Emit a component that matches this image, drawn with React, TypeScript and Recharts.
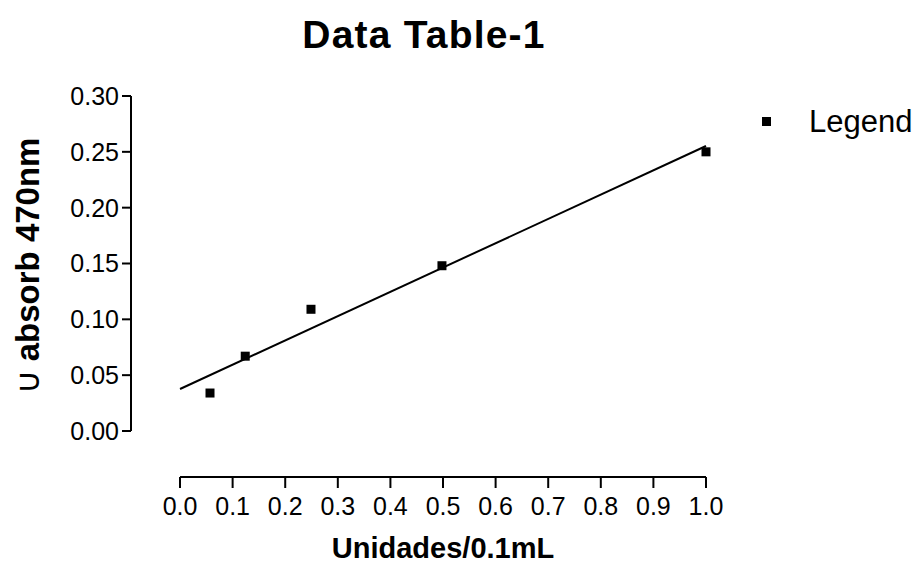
import { ScatterChart, Scatter, XAxis, YAxis, ReferenceLine } from 'recharts';

// measured points (Unidades/0.1mL vs absorbance)
const unidades = [0.057, 0.124, 0.249, 0.498, 1.0];
const absorb = [0.034, 0.067, 0.109, 0.148, 0.25];

// linear fit, ends
const fitX = [0, 1.0];
const fitY = [0.0376, 0.2552];

const xTicks = [0, 0.1, 0.2, 0.3, 0.4, 0.5, 0.6, 0.7, 0.8, 0.9, 1.0];
const yTicks = [0, 0.05, 0.1, 0.15, 0.2, 0.25, 0.3];

const points = unidades.map((x, i) => ({ x, y: absorb[i] }));
const fit = fitX.map((x, i) => ({ x, y: fitY[i] }));

const FONT = '"Liberation Sans", Arial, sans-serif';

// Prism-style offset axes: the axis lines sit outside the data range
const X_MIN = -0.0932;
const Y_MIN = -0.0412;

function Square({ cx, cy }: { cx?: number; cy?: number }) {
  if (cx == null || cy == null) return null;
  return <rect x={cx - 4.5} y={cy - 4.5} width={9} height={9} fill="#000" />;
}

function YLabel() {
  return (
    <text
      x={27}
      y={266}
      transform="rotate(-90 27 266)"
      textAnchor="middle"
      dominantBaseline="central"
      fontFamily={FONT}
      fontSize={33}
      fill="#000"
    >
      <tspan fontWeight="normal">∪</tspan>
      <tspan fontWeight="bold"> absorb 470nm</tspan>
    </text>
  );
}

function XLabel() {
  return (
    <text x={443} y={558} textAnchor="middle" fontFamily={FONT} fontSize={29} fontWeight="bold" fill="#000">
      Unidades/0.1mL
    </text>
  );
}

export default function App() {
  return (
    <div style={{ position: 'absolute', left: 0, top: 0, width: 919, height: 571, background: '#fff' }}>
      <div
        style={{
          position: 'absolute',
          left: 0,
          width: 848,
          top: 15,
          lineHeight: '39px',
          textAlign: 'center',
          fontFamily: FONT,
          fontWeight: 'bold',
          fontSize: 39,
          letterSpacing: 1.2,
          color: '#000',
        }}
      >
        Data Table-1
      </div>
      <div style={{ position: 'absolute', left: 762, top: 117, width: 9, height: 9, background: '#000' }} />
      <div
        style={{
          position: 'absolute',
          left: 809,
          top: 106,
          lineHeight: '31px',
          fontFamily: FONT,
          fontSize: 31,
          color: '#000',
        }}
      >
        Legend
      </div>
      <ScatterChart width={919} height={571} margin={{ top: 96, right: 213, bottom: 34, left: 71 }}>
        <XAxis
          type="number"
          dataKey="x"
          domain={[X_MIN, 1]}
          ticks={xTicks}
          tickFormatter={(v: number) => v.toFixed(1)}
          axisLine={false}
          tickLine={{ stroke: '#000', strokeWidth: 2 }}
          tickSize={11}
          tickMargin={9}
          height={60}
          tick={{ fill: '#000', fontSize: 25, fontFamily: FONT }}
          label={{ content: () => <XLabel /> }}
        />
        <YAxis
          type="number"
          dataKey="y"
          domain={[Y_MIN, 0.3]}
          ticks={yTicks}
          tickFormatter={(v: number) => v.toFixed(2)}
          axisLine={false}
          tickLine={{ stroke: '#000', strokeWidth: 2 }}
          tickSize={9}
          tickMargin={3}
          width={60}
          tick={{ fill: '#000', fontSize: 25, fontFamily: FONT }}
          label={{ content: () => <YLabel /> }}
        />
        <ReferenceLine
          segment={[{ x: 0, y: Y_MIN }, { x: 1, y: Y_MIN }]}
          stroke="#000"
          strokeWidth={2}
          ifOverflow="visible"
        />
        <ReferenceLine
          segment={[{ x: X_MIN, y: 0 }, { x: X_MIN, y: 0.3 }]}
          stroke="#000"
          strokeWidth={2}
          ifOverflow="visible"
        />
        <Scatter
          data={fit}
          line={{ stroke: '#000', strokeWidth: 2 }}
          shape={() => <g />}
          isAnimationActive={false}
        />
        <Scatter data={points} shape={<Square />} isAnimationActive={false} />
      </ScatterChart>
    </div>
  );
}
